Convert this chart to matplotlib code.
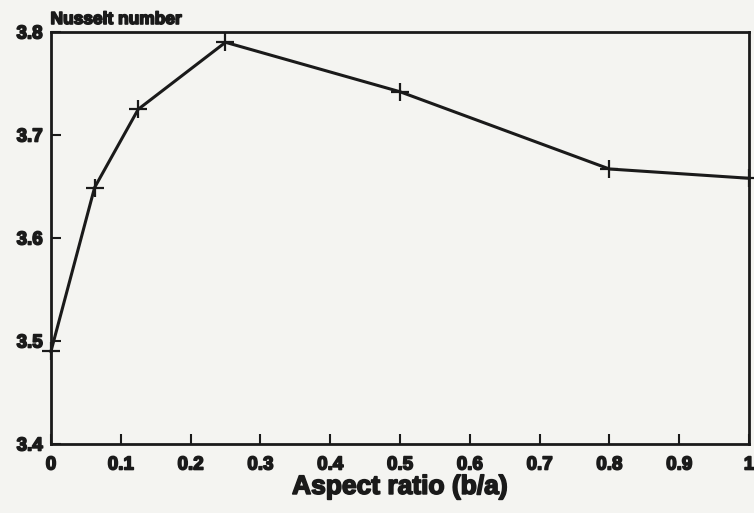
import matplotlib
matplotlib.use("Agg")
import matplotlib.pyplot as plt
import matplotlib.patheffects as pe

# Nusselt number vs aspect ratio
aspect_ratio = [0.0, 0.0625, 0.125, 0.25, 0.5, 0.8, 1.0]
nusselt = [3.49, 3.649, 3.725, 3.790, 3.742, 3.667, 3.658]
x_ticks = [0, 0.1, 0.2, 0.3, 0.4, 0.5, 0.6, 0.7, 0.8, 0.9, 1.0]
x_labels = ["0", "0.1", "0.2", "0.3", "0.4", "0.5", "0.6", "0.7", "0.8", "0.9", "1"]
y_ticks = [3.4, 3.5, 3.6, 3.7, 3.8]

BG = "#f4f4f1"
INK = "#1a1a1a"
plt.rcParams["font.family"] = ["Liberation Sans", "DejaVu Sans"]
heavy = [pe.withStroke(linewidth=1.2, foreground=INK)]

fig = plt.figure(figsize=(7.54, 5.13), dpi=100, facecolor=BG)
ax = fig.add_axes([0.0676, 0.1345, 0.9258, 0.8031], facecolor=BG)

ax.plot(aspect_ratio, nusselt, color=INK, lw=2.2, marker="+", ms=13, mew=1.6,
        clip_on=False, zorder=3)

ax.set_xlim(0, 1)
ax.set_ylim(3.4, 3.8)
ax.set_xticks(x_ticks)
ax.set_xticklabels(x_labels)
ax.set_yticks(y_ticks)
ax.set_yticklabels([f"{v:.1f}" for v in y_ticks])
ax.tick_params(axis="both", direction="in", length=7, width=1.5, color=INK,
               labelsize=13.5, labelcolor=INK)
ax.tick_params(axis="x", pad=9)
ax.tick_params(axis="y", pad=6)
for lbl in ax.get_xticklabels() + ax.get_yticklabels():
    lbl.set_fontweight("heavy")
    lbl.set_path_effects(heavy)
for s in ax.spines.values():
    s.set_linewidth(2.0)
    s.set_color(INK)

ax.set_xlabel("Aspect ratio (b/a)", fontsize=19, fontweight="heavy", color=INK, labelpad=1,
              path_effects=heavy)
fig.text(0.067, 0.962, "Nusselt number", fontsize=12.5, fontweight="heavy", color=INK,
         ha="left", va="center", path_effects=heavy)

fig.savefig("out.png", dpi=100, facecolor=BG)
